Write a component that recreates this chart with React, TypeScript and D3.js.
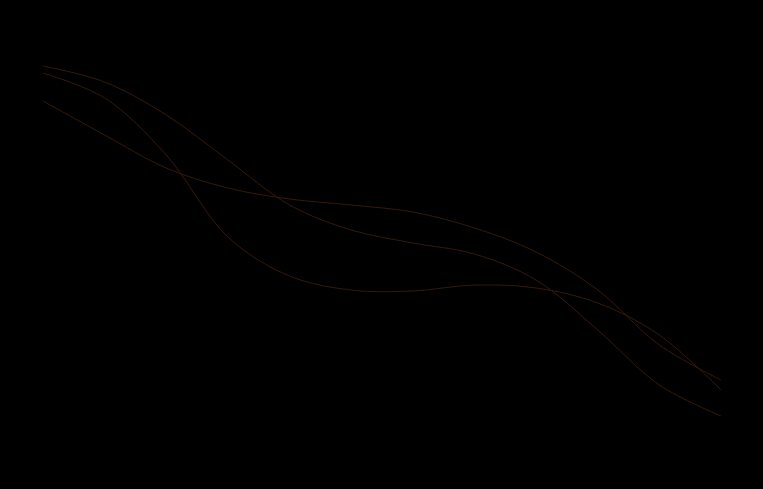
import { useMemo } from "react";
import * as d3 from "d3";

const WIDTH = 763;
const HEIGHT = 489;

const steps = [0, 1, 2, 3, 4, 5, 6, 7, 8, 9, 10, 11];
const seriesA = [96, 92, 83.75, 72.5, 61.25, 55, 51.75, 49, 42.5, 30, 16.25, 8.5];
const seriesB = [94.25, 88, 73.75, 53.25, 43.5, 40, 39.75, 41.25, 40.5, 36.75, 28.75, 15];
const seriesC = [87.25, 78.75, 70.5, 65.5, 62.75, 61.25, 59.5, 55.5, 49.5, 40, 26.25, 17.5];
const allSeries = [seriesA, seriesB, seriesC];

export default function App() {
  const xScale = useMemo(
    () => d3.scaleLinear().domain([0, steps.length - 1]).range([43, 721]),
    []
  );
  const yScale = useMemo(
    () => d3.scaleLinear().domain([0, 100]).range([450, 50]),
    []
  );

  const line = d3
    .line<number>()
    .x((_, i) => xScale(steps[i]))
    .y((d) => yScale(d))
    .curve(d3.curveCatmullRom.alpha(0.5));

  return (
    <svg
      width={WIDTH}
      height={HEIGHT}
      style={{ position: "absolute", left: 0, top: 0, background: "#000" }}
    >
      <rect width={WIDTH} height={HEIGHT} fill="#000" />
      {allSeries.map((s, i) => (
        <path
          key={i}
          d={line(s) ?? ""}
          fill="none"
          stroke="#36190b"
          strokeWidth={1}
        />
      ))}
    </svg>
  );
}
